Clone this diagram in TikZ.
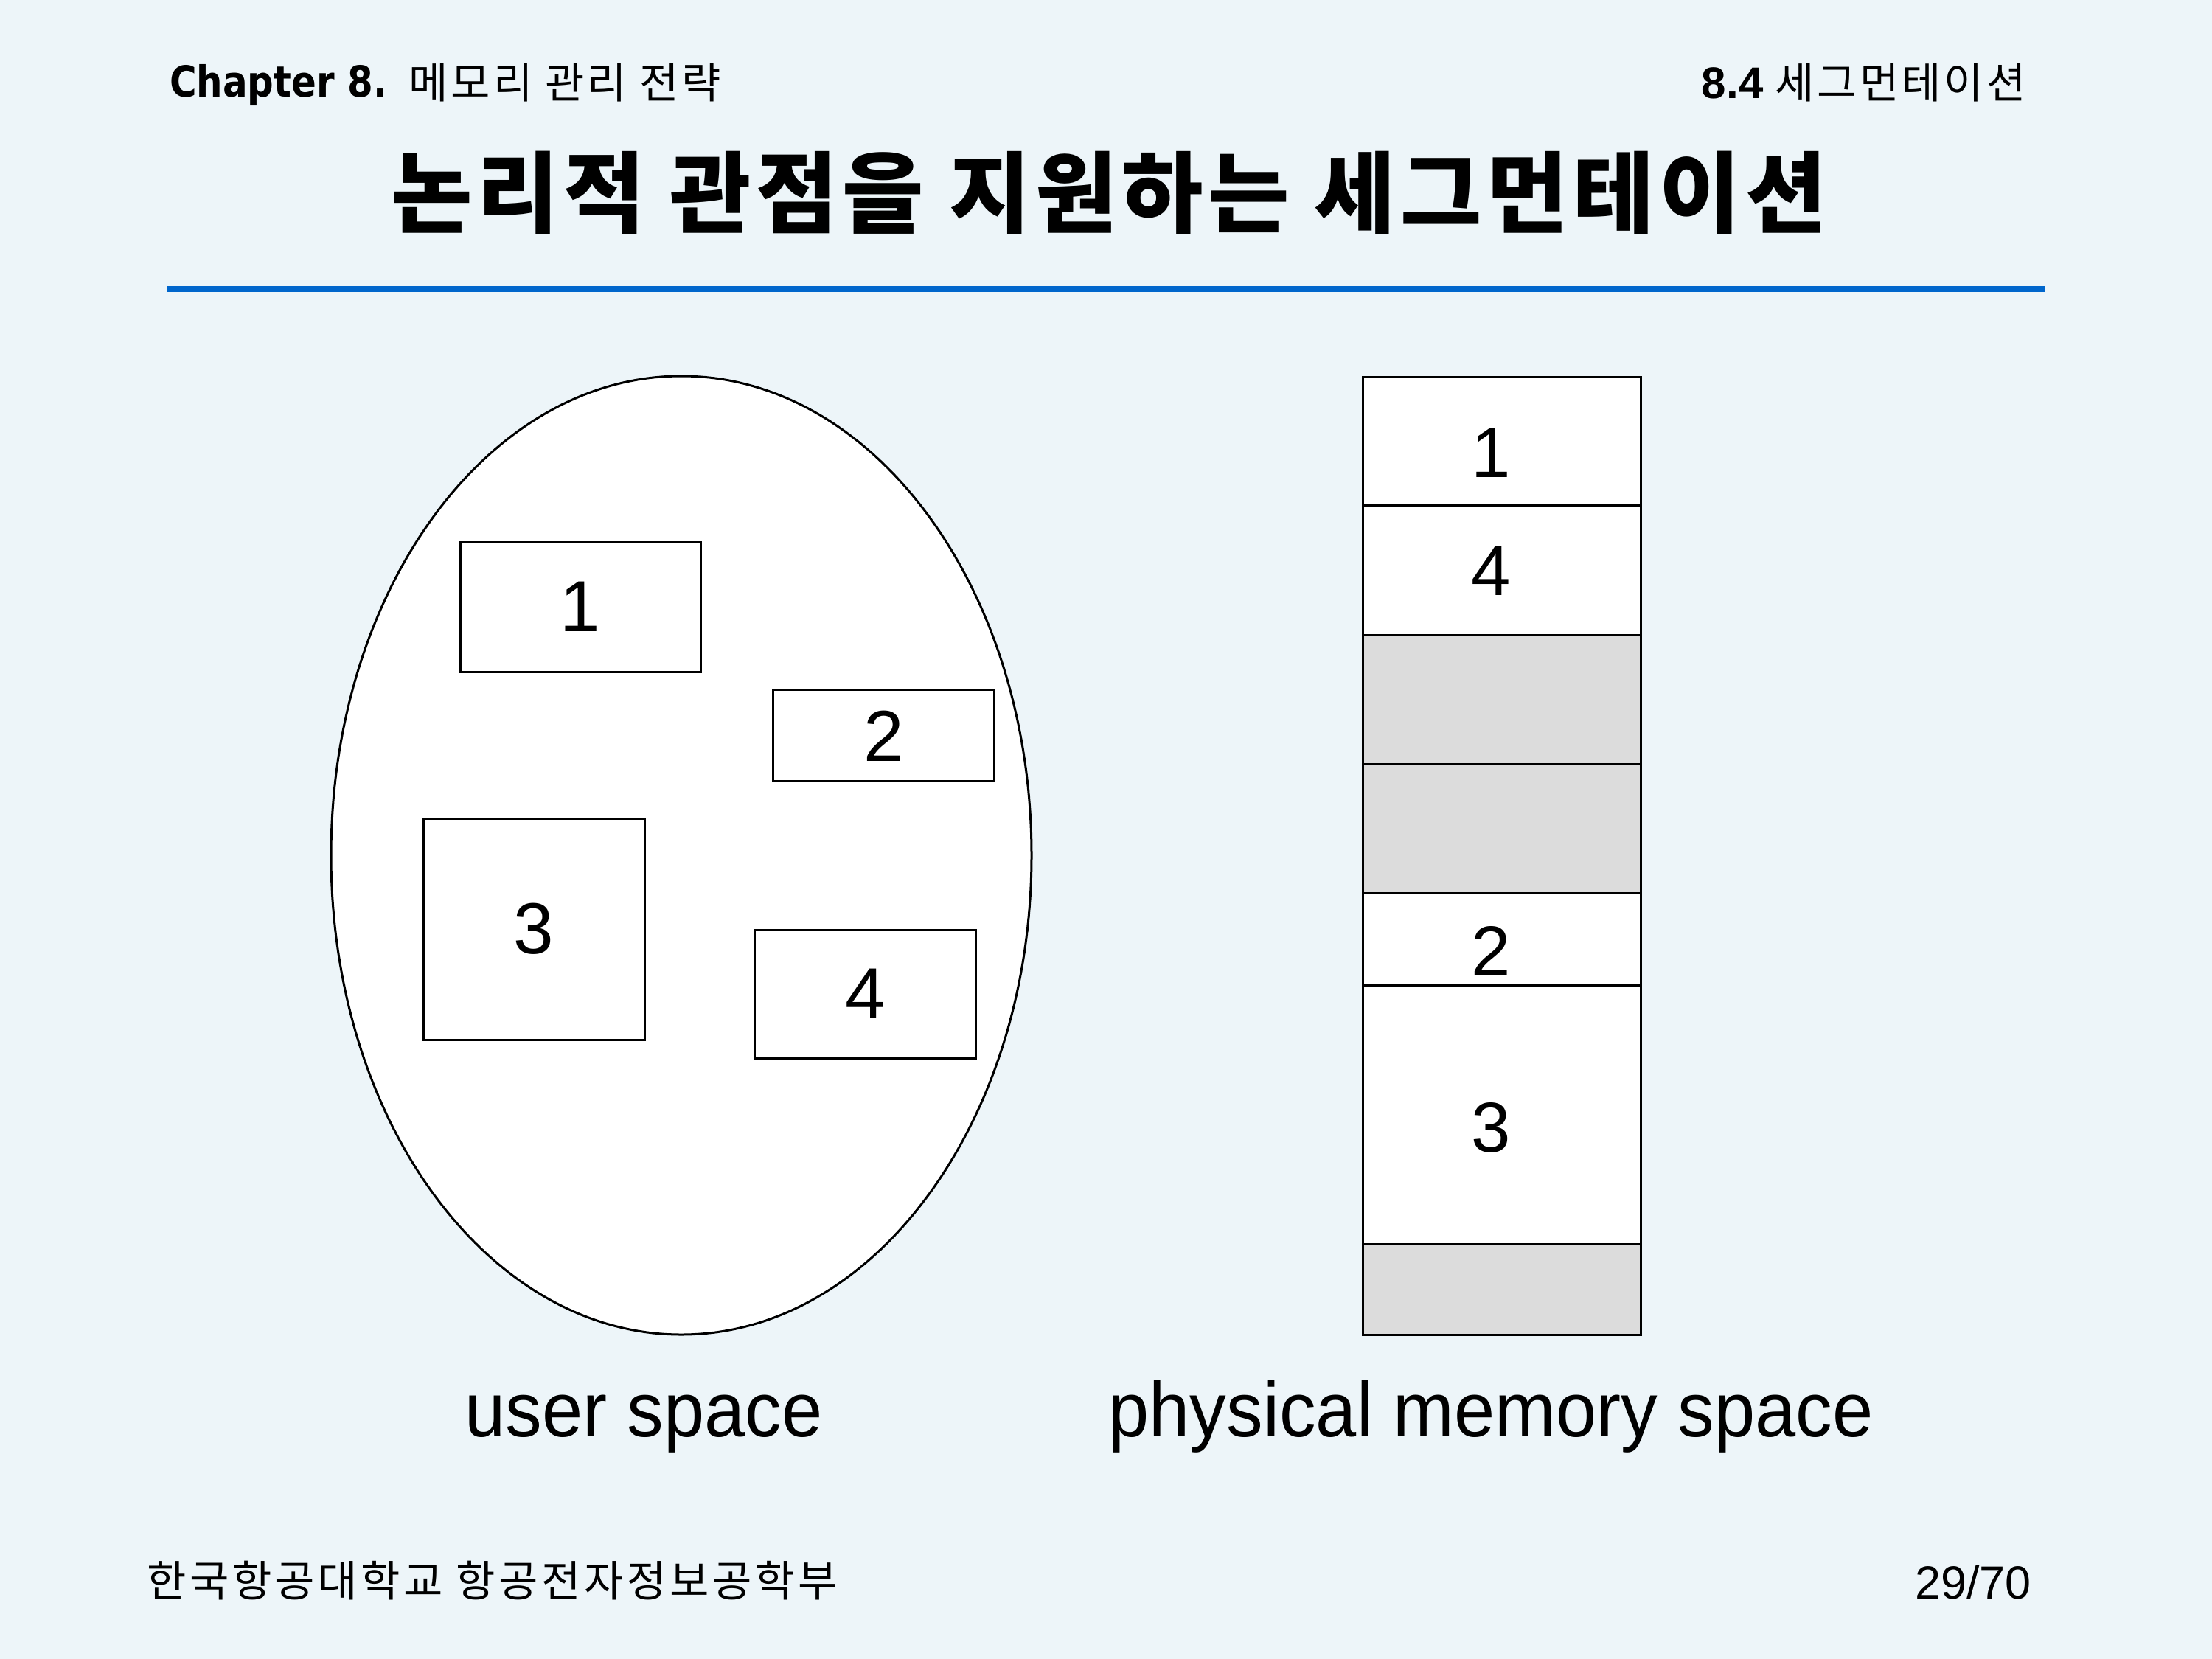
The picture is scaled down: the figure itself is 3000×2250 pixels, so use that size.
\documentclass[tikz,border=0pt]{standalone}
\usepackage{fontspec}
\usetikzlibrary{shapes.geometric}
\setmainfont{Liberation Sans}
\newfontfamily\krfont{Noto Sans CJK KR}
\newfontfamily\krspaced[LetterSpace=7]{Noto Sans CJK KR}
\newfontfamily\krfoot[LetterSpace=8]{Noto Sans CJK KR}
\newfontfamily\krtitle[LetterSpace=5.5]{Noto Sans CJK KR}
\newfontfamily\chapfont[FakeStretch=0.86]{DejaVu Sans}
\newfontfamily\labfont[FakeStretch=0.945]{Liberation Sans}
\definecolor{bgc}{RGB}{237,245,249}
\definecolor{rulec}{RGB}{0,102,204}
\definecolor{freec}{RGB}{220,220,220}
\begin{document}
\begin{tikzpicture}[x=1pt,y=-1pt,
  seg/.style={draw=black, fill=white, line width=3pt, inner sep=0pt,
    font=\fontsize{98}{110}\selectfont},
  memblk/.style={draw=black, fill=white, line width=3pt, inner sep=0pt,
    minimum width=377pt},
  freeblk/.style={memblk, fill=freec},
  memlab/.style={inner sep=0pt, font=\fontsize{96}{110}\selectfont},
  spacelab/.style={anchor=base, inner sep=0pt,
    font=\labfont\fontsize{105}{120}\selectfont}]
\useasboundingbox (0,0) rectangle (3000,2250);
\fill[bgc] (0,0) rectangle (3000,2250);
% header
\node[anchor=base west, inner sep=0pt] (chap) at (230,132)
  {\chapfont\bfseries\fontsize{58}{70}\selectfont Chapter 8.};
\node[anchor=base west, inner sep=0pt] (chapkr) at (554,134)
  {\krspaced\fontsize{58}{70}\selectfont 메모리 관리 전략};
\node[anchor=base east, inner sep=0pt] (sect) at (2748,134)
  {{\bfseries\fontsize{60}{72}\selectfont 8.4}\hspace{16pt}{\krspaced\fontsize{58}{70}\selectfont 세그먼테이션}};
\node[anchor=center, inner sep=0pt] (title) at (1504,262)
  {\krtitle\bfseries\fontsize{120}{140}\selectfont 논리적 관점을 지원하는 세그먼테이션};
\coordinate (ruleL) at (226,392);
\coordinate (ruleR) at (2774,392);
\draw[rulec, line width=8pt] (ruleL) -- (ruleR);
% user space
\node[draw=black, fill=white, ellipse, line width=3pt, inner sep=0pt,
  minimum width=950pt, minimum height=1300pt] (us) at (924,1160) {};
\node[seg, minimum width=326pt, minimum height=176pt] (u1) at (787,823) {1};
\node[seg, minimum width=300pt, minimum height=124pt] (u2) at (1198.7,997.8) {2};
\node[seg, minimum width=300pt, minimum height=300pt] (u3) at (724.2,1260) {3};
\node[seg, minimum width=300pt, minimum height=174pt] (u4) at (1173.8,1348) {4};
% physical memory
\node[memblk, minimum height=174pt] (m1) at (2036.5,598) {};
\node[memblk, minimum height=176pt] (m4) at (2036.5,773) {};
\node[freeblk, minimum height=175pt] (f1) at (2036.5,948.5) {};
\node[freeblk, minimum height=175pt] (f2) at (2036.5,1123.5) {};
\node[memblk, minimum height=125pt] (m2) at (2036.5,1273.5) {};
\node[memblk, minimum height=351pt] (m3) at (2036.5,1511.5) {};
\node[freeblk, minimum height=123pt] (f3) at (2036.5,1748.5) {};
\node[memlab] (l1) at (2022,614.6) {1};
\node[memlab] (l4) at (2022,774.3) {4};
\node[memlab] (l2) at (2022,1289.5) {2};
\node[memlab] (l3) at (2022,1529.5) {3};
% captions
\node[spacelab] (usl) at (873,1948) {user space};
\node[spacelab] (pml) at (2022,1948) {physical memory space};
% footer
\node[anchor=base west, inner sep=0pt] (foot) at (199,2165)
  {\krfoot\fontsize{58}{70}\selectfont 한국항공대학교 항공전자정보공학부};
\node[anchor=base east, inner sep=0pt] (page) at (2755,2168)
  {\fontsize{63}{75}\selectfont 29/70};
\end{tikzpicture}
\end{document}
